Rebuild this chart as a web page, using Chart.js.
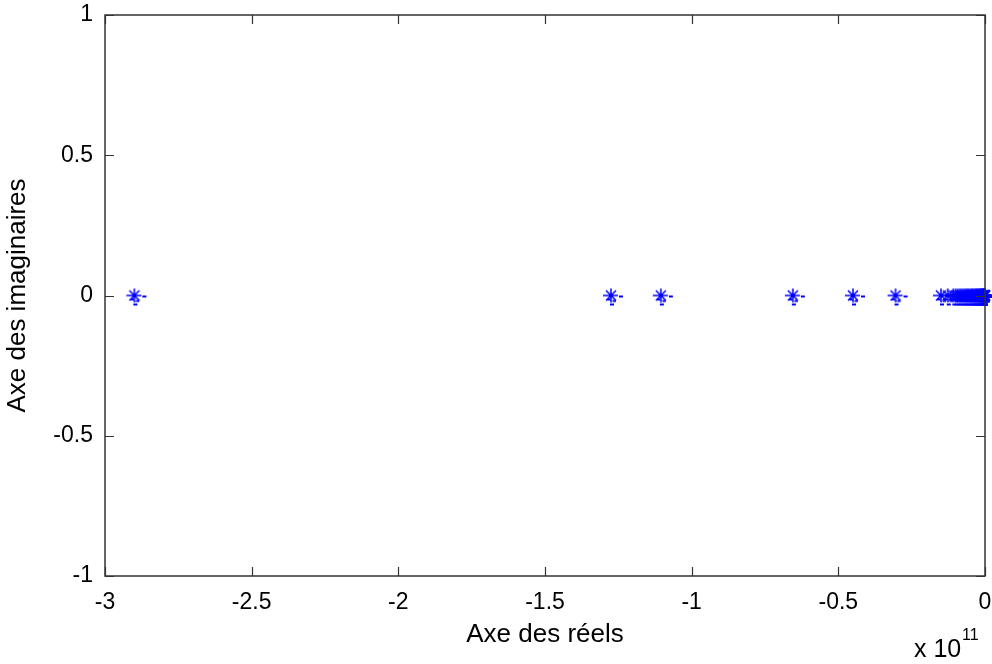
<!DOCTYPE html>
<html><head><meta charset="utf-8">
<script src="https://cdn.jsdelivr.net/npm/chart.js@4.4.0/dist/chart.umd.min.js"></script>
<style>html,body{margin:0;padding:0;background:#fff;}</style>
</head><body>
<canvas id="c" width="992" height="664"></canvas>
<script>
// Real parts of the poles (in units of 1e11)
const realParts = [-2.90, -1.275, -1.105, -0.655, -0.45, -0.305, -0.150, -0.127,
  -0.108, -0.100, -0.093, -0.086, -0.080, -0.074, -0.068, -0.063, -0.058, -0.053,
  -0.048, -0.044, -0.040, -0.036, -0.032, -0.029, -0.026, -0.023, -0.020, -0.017,
  -0.015, -0.013, -0.011, -0.009, -0.007, -0.0055, -0.004, -0.003, -0.002, -0.001,
  -0.0005, 0];
// Imaginary parts (all zero)
const imagParts = realParts.map(() => 0);
const xTicks = [-3, -2.5, -2, -1.5, -1, -0.5, 0];
const yTicks = [-1, -0.5, 0, 0.5, 1];
const xTickLabels = ['-3', '-2.5', '-2', '-1.5', '-1', '-0.5', '0'];
const yTickLabels = ['-1', '-0.5', '0', '0.5', '1'];
const xTitle = 'Axe des réels';
const yTitle = 'Axe des imaginaires';
const exponentBase = 'x 10';
const exponentPower = '11';

const FONT = "'Liberation Sans', Arial, sans-serif";
const BLUE = '#0000ff';
const AXIS = '#333333';

function makeMarker() {
  const c = document.createElement('canvas');
  c.width = 36; c.height = 36;
  const g = c.getContext('2d');
  const cx = 18, cy = 18;
  g.strokeStyle = BLUE; g.lineWidth = 1.5;
  g.beginPath();
  g.moveTo(cx, cy - 7); g.lineTo(cx, cy + 7);
  g.moveTo(cx - 8, cy); g.lineTo(cx + 7, cy);
  g.moveTo(cx - 5, cy - 5); g.lineTo(cx + 5, cy + 5);
  g.moveTo(cx - 5, cy + 5); g.lineTo(cx + 5, cy - 5);
  g.stroke();
  g.fillStyle = BLUE;
  g.fillRect(cx - 2, cy - 2, 4, 4);
  g.fillRect(cx + 8, cy, 4, 2);
  g.fillRect(cx - 4, cy + 3, 3.5, 2);
  g.fillRect(cx + 1.5, cy + 4.5, 3.5, 2);
  g.fillRect(cx - 1, cy + 8, 4, 2);
  return c;
}
const marker = makeMarker();

const data = realParts.map((x, i) => ({ x: x, y: imagParts[i] }));

const framePlugin = {
  id: 'frame',
  afterDatasetsDraw(chart) {
    const { ctx, chartArea: a, scales: { x, y } } = chart;
    ctx.save();
    ctx.strokeStyle = AXIS;
    ctx.lineWidth = 1.5;
    ctx.strokeRect(a.left, a.top, a.right - a.left, a.bottom - a.top);
    ctx.lineWidth = 1.2;
    const L = 9;
    ctx.beginPath();
    xTicks.forEach(v => {
      const px = Math.round(x.getPixelForValue(v)) + 0.5;
      ctx.moveTo(px, a.bottom); ctx.lineTo(px, a.bottom - L);
      ctx.moveTo(px, a.top); ctx.lineTo(px, a.top + L);
    });
    yTicks.forEach(v => {
      const py = Math.round(y.getPixelForValue(v)) + 0.5;
      ctx.moveTo(a.left, py); ctx.lineTo(a.left + L, py);
      ctx.moveTo(a.right, py); ctx.lineTo(a.right - L, py);
    });
    ctx.stroke();
    ctx.fillStyle = '#000';
    ctx.textBaseline = 'alphabetic';
    ctx.textAlign = 'left';
    ctx.font = '25px ' + FONT;
    ctx.fillText(exponentBase, 914, 657);
    ctx.font = '16px ' + FONT;
    ctx.fillText(exponentPower, 962, 640);
    ctx.restore();
  }
};

new Chart(document.getElementById('c'), {
  type: 'scatter',
  data: {
    datasets: [{
      data: data,
      pointStyle: marker,
      pointRadius: 6,
      pointHoverRadius: 6,
      clip: false,
      showLine: false
    }]
  },
  options: {
    responsive: false,
    animation: false,
    events: [],
    layout: { padding: { left: 0, right: 7, top: 15, bottom: 0 } },
    plugins: { legend: { display: false }, tooltip: { enabled: false } },
    scales: {
      x: {
        type: 'linear', min: -3, max: 0,
        afterBuildTicks: s => { s.ticks = xTicks.map(v => ({ value: v })); },
        afterFit: s => { s.height = 88; s.paddingLeft = 0; s.paddingRight = 0; },
        grid: { display: false, drawTicks: false },
        border: { display: false },
        ticks: {
          padding: 13, color: '#000', maxRotation: 0, autoSkip: false,
          font: { family: FONT, size: 23 },
          callback: (v) => xTickLabels[xTicks.indexOf(v)]
        },
        title: { display: true, text: xTitle, color: '#000',
          font: { family: FONT, size: 26 }, padding: { top: 0, bottom: 14 } }
      },
      y: {
        type: 'linear', min: -1, max: 1,
        afterBuildTicks: s => { s.ticks = yTicks.map(v => ({ value: v })); },
        afterFit: s => { s.width = 105; s.paddingTop = 0; s.paddingBottom = 0; },
        grid: { display: false, drawTicks: false },
        border: { display: false },
        ticks: {
          padding: 12, color: '#000', autoSkip: false,
          font: { family: FONT, size: 23 },
          callback: (v) => yTickLabels[yTicks.indexOf(v)]
        },
        title: { display: true, text: yTitle, color: '#000',
          font: { family: FONT, size: 26 }, padding: { top: 2, bottom: 0 } }
      }
    }
  },
  plugins: [framePlugin]
});
</script>
</body></html>
